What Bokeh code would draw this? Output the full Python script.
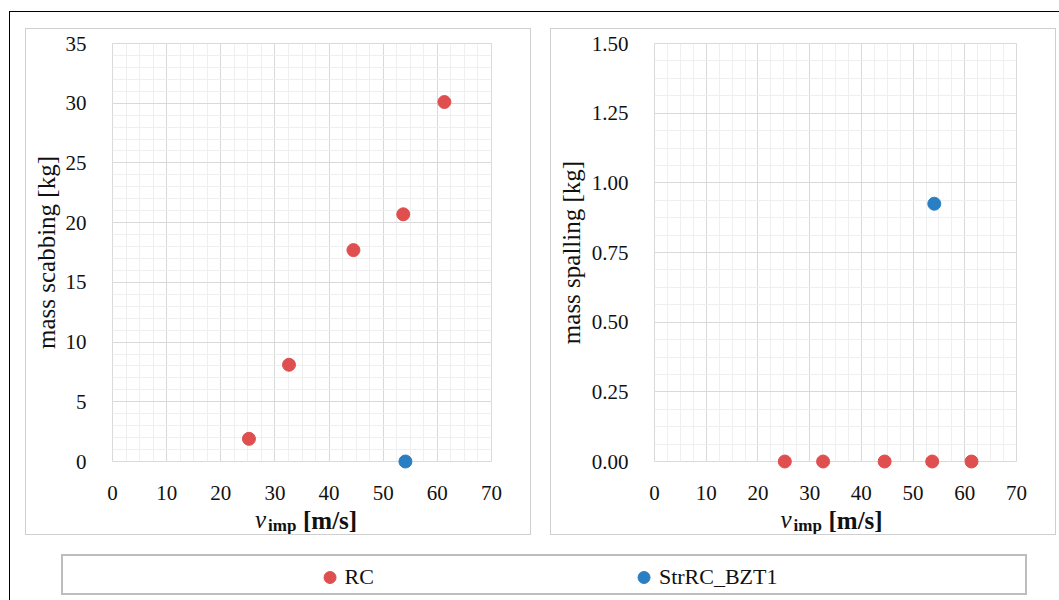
from bokeh.plotting import figure
from bokeh.layouts import column, row
from bokeh.models import (Legend, LegendItem, SingleIntervalTicker,
                          PrintfTickFormatter, Range1d, Spacer)
from bokeh.core.properties import value
from bokeh.embed import file_html
from bokeh.resources import INLINE

# ---------------- data ----------------
rc_velocity = [25.2, 32.6, 44.5, 53.7, 61.3]
rc_scabbing = [1.9, 8.1, 17.7, 20.7, 30.1]
rc_spalling = [0.0, 0.0, 0.0, 0.0, 0.0]

bzt_velocity = [54.1]
bzt_scabbing = [0.0]
bzt_spalling = [0.925]

series_names = ["RC", "StrRC_BZT1"]
y_titles = ["mass scabbing [kg]", "mass spalling [kg]"]
x_title_parts = ["v", "imp", "[m/s]"]

RED = "#df4f4f"
BLUE = "#2a7fc3"
FONT = "Liberation Serif"
TXT = "#111111"
PANEL_H = 507


def make_panel(width, mb_left, mb_right, ymax, yint, yminor, yfmt, ytitle,
               rc_y, bzt_y, label_std, title_offsets):
    p = figure(width=width, height=PANEL_H,
               x_range=Range1d(0, 70), y_range=Range1d(0, ymax),
               output_backend="svg", toolbar_location=None,
               min_border_left=mb_left, min_border_right=mb_right,
               min_border_top=14, min_border_bottom=PANEL_H - 14 - 418,
               background_fill_color="white", border_fill_color="white",
               outline_line_color="#d9d9d9")
    p.xaxis.ticker = SingleIntervalTicker(interval=10, num_minor_ticks=4)
    p.yaxis.ticker = SingleIntervalTicker(interval=yint, num_minor_ticks=yminor)
    if yfmt:
        p.yaxis.formatter = PrintfTickFormatter(format=yfmt)
    for ax in (p.xaxis[0], p.yaxis[0]):
        ax.axis_line_color = None
        ax.major_tick_line_color = None
        ax.minor_tick_line_color = None
        ax.major_tick_in = 0
        ax.major_tick_out = 0
        ax.major_label_text_font = FONT
        ax.major_label_text_font_size = "21px"
        ax.major_label_text_color = TXT
    p.xaxis.major_label_standoff = 20
    p.yaxis.major_label_standoff = 22
    p.yaxis.axis_label = ytitle
    p.yaxis.axis_label_text_font = FONT
    p.yaxis.axis_label_text_font_size = "25px"
    p.yaxis.axis_label_text_font_style = "normal"
    p.yaxis.axis_label_text_color = TXT
    p.yaxis.axis_label_standoff = label_std

    p.grid.grid_line_color = "#d9d9d9"
    p.grid.minor_grid_line_color = "#efefef"
    p.grid.minor_grid_line_width = 1

    p.scatter(rc_velocity, rc_y, size=13, marker="circle",
              fill_color=RED, line_color=RED, level="overlay")
    p.scatter(bzt_velocity, bzt_y, size=13, marker="circle",
              fill_color=BLUE, line_color=BLUE, level="overlay")

    # x-axis title: italic v, bold subscript "imp", bold [m/s]
    specs = [
        (x_title_parts[0], "italic", "25px", title_offsets[0], 58),
        (x_title_parts[1], "bold", "17px", title_offsets[1], 64),
        (x_title_parts[2], "bold", "25px", title_offsets[2], 59),
    ]
    for txt, style, size, xo, yo in specs:
        p.text(x=[35], y=[0], text=[txt], x_offset=xo, y_offset=yo,
               text_font=value(FONT), text_font_style=value(style),
               text_font_size=value(size), text_color=TXT,
               text_align="left", text_baseline="alphabetic",
               level="overlay")
    p.styles = {"border": "1.5px solid #cfcfcf", "box-sizing": "border-box"}
    return p


p1 = make_panel(506, 86, 41, 35, 5, 5, None, y_titles[0],
                rc_scabbing, bzt_scabbing, 3, (-47, -34, 1))
p2 = make_panel(506, 103, 41, 1.5, 0.25, 4, "%.2f", y_titles[1],
                rc_spalling, bzt_spalling, 4, (-55, -42, -7))
p1.margin = (16, 0, 0, 15)
p2.margin = (16, 0, 0, 19)

# legend strip
lg = figure(width=966, height=41, x_range=Range1d(0, 1), y_range=Range1d(0, 1),
            output_backend="svg", toolbar_location=None,
            x_axis_location=None, y_axis_location=None,
            min_border=0, outline_line_color=None,
            background_fill_color="white", border_fill_color="white")
lg.grid.visible = False
l_rc = lg.scatter([-5], [-5], size=12, marker="circle", fill_color=RED, line_color=RED)
l_bzt = lg.scatter([-5], [-5], size=12, marker="circle", fill_color=BLUE, line_color=BLUE)
legend = Legend(items=[LegendItem(label=series_names[0], renderers=[l_rc]),
                       LegendItem(label=series_names[1], renderers=[l_bzt])],
                location="center", orientation="horizontal",
                glyph_width=30, glyph_height=30, label_standoff=-3,
                spacing=255, padding=0, margin=0,
                border_line_color=None, background_fill_alpha=0,
                label_text_font=FONT, label_text_font_size="22px",
                label_text_color=TXT)
lg.add_layout(legend, "center")
lg.styles = {"border": "2px solid #bdbdbd", "box-sizing": "border-box"}
lg.margin = (19, 0, 0, 51)

content = column(row(p1, p2), lg)

# black frame lines (top and left) of the figure box
top_line = Spacer(width=1050, height=1, margin=(11, 0, 0, 9),
                  styles={"background-color": "#000000"})
left_line = Spacer(width=1, height=588, margin=(0, 0, 0, 9),
                   styles={"background-color": "#000000"})

layout = column(top_line, row(left_line, content))

open("out.html", "w").write(file_html(layout, INLINE))
